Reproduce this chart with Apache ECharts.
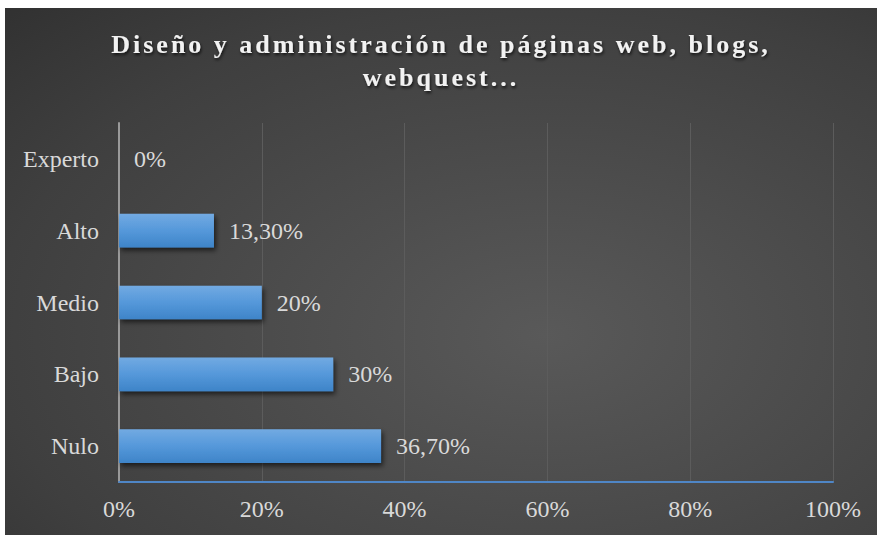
<!DOCTYPE html>
<html>
<head>
<meta charset="utf-8">
<script src="https://cdn.jsdelivr.net/npm/echarts@6/dist/echarts.min.js"></script>
<style>
  html, body { margin: 0; padding: 0; background: #fff; }
  #main { position: absolute; left: 5px; top: 8px; width: 872px; height: 527px; }
</style>
</head>
<body>
<div id="main"></div>
<script>
// datos de la gráfica
var titulo = 'Diseño y administración de páginas web, blogs,\nwebquest...';
var niveles = ['Nulo', 'Bajo', 'Medio', 'Alto', 'Experto'];
var porcentajes = [36.7, 30, 20, 13.3, 0];
var ticksX = [0, 20, 40, 60, 80, 100];

var serif = "'Liberation Serif', 'Times New Roman', serif";

// 13.3 -> "13,30%", 20 -> "20%"
var fmt = function (v) {
  if (Math.round(v) === v) return v + '%';
  return v.toFixed(2).replace('.', ',') + '%';
};

var chart = echarts.init(document.getElementById('main'), null, { renderer: 'svg' });

chart.setOption({
  animation: false,
  backgroundColor: {
    type: 'radial', x: 0.62, y: 0.62, r: 1.15,
    colorStops: [
      { offset: 0, color: '#595959' },
      { offset: 0.55, color: '#3f3f3f' },
      { offset: 1, color: '#222222' }
    ]
  },
  title: {
    text: titulo,
    left: 'center',
    top: 15,
    textStyle: {
      color: '#f2f2f2',
      fontFamily: serif,
      fontWeight: 'bold',
      fontSize: 26,
      lineHeight: 33,
      textShadowColor: 'rgba(0,0,0,0.7)',
      textShadowBlur: 3,
      textShadowOffsetX: 1,
      textShadowOffsetY: 2
    }
  },
  grid: { left: 114, right: 44, top: 115, bottom: 53, containLabel: false },
  xAxis: {
    type: 'value',
    min: ticksX[0],
    max: ticksX[ticksX.length - 1],
    interval: ticksX[1] - ticksX[0],
    axisLine: { show: true, lineStyle: { color: '#4f86c6', width: 2 } },
    axisTick: { show: false },
    splitLine: { show: true, lineStyle: { color: '#5c5c5c', width: 1 } },
    axisLabel: {
      color: '#d9d9d9', fontFamily: serif, fontSize: 24, margin: 15,
      formatter: '{value}%'
    }
  },
  yAxis: {
    type: 'category',
    data: niveles,
    axisLine: { show: true, lineStyle: { color: '#9a9a9a', width: 2 } },
    axisTick: { show: false },
    axisLabel: { color: '#d9d9d9', fontFamily: serif, fontSize: 24, margin: 20 }
  },
  series: [{
    type: 'bar',
    data: porcentajes,
    barWidth: '47%',
    itemStyle: {
      color: {
        type: 'linear', x: 0, y: 0, x2: 0, y2: 1,
        colorStops: [
          { offset: 0, color: '#72aae2' },
          { offset: 0.5, color: '#5598da' },
          { offset: 1, color: '#3e84c8' }
        ]
      },
      shadowColor: 'rgba(0,0,0,0.6)',
      shadowBlur: 5,
      shadowOffsetX: 2,
      shadowOffsetY: 3
    },
    label: {
      show: true,
      position: 'right',
      distance: 15,
      color: '#d9d9d9',
      fontFamily: serif,
      fontSize: 24,
      formatter: function (p) { return fmt(p.value); }
    }
  }]
});

// espaciado de letras del título (como en el original)
var espaciar = function () {
  var ts = document.querySelectorAll('#main text');
  for (var i = 0; i < ts.length; i++) {
    var t = ts[i].textContent;
    if (t.indexOf('Diseño') === 0 || t.indexOf('webquest') === 0) {
      ts[i].setAttribute('letter-spacing', '3px');
    }
  }
};
chart.on('finished', espaciar);
setTimeout(espaciar, 50);
</script>
</body>
</html>
